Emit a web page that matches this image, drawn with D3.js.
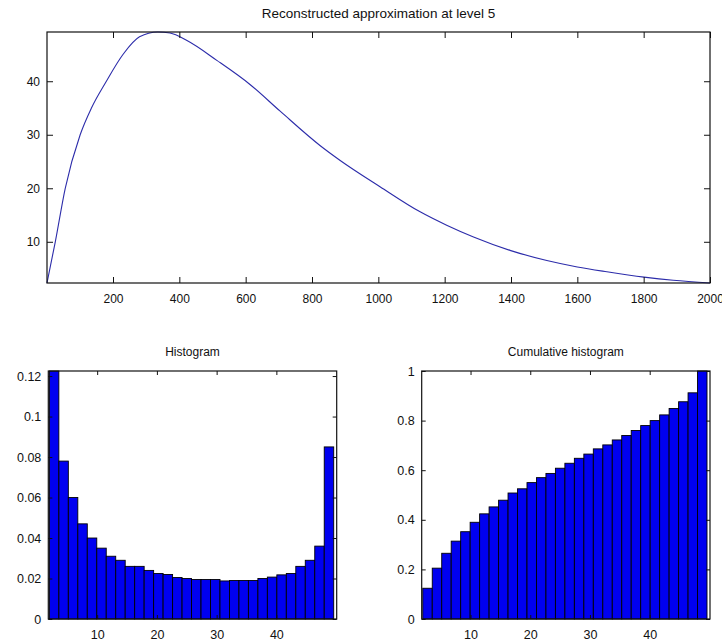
<!DOCTYPE html>
<html>
<head>
<meta charset="utf-8">
<script src="https://cdn.jsdelivr.net/npm/d3@7.9.0/dist/d3.min.js"></script>
<style>
  html, body { margin: 0; padding: 0; background: #fff; }
  svg { display: block; }
  .tick text { font-family: "Liberation Sans", Arial, sans-serif; font-size: 12px; fill: #111; }
  .small .tick text { font-size: 12.5px; }
  .title { font-family: "Liberation Sans", Arial, sans-serif; font-size: 12px; fill: #111; text-anchor: middle; }
  .big { font-size: 13.5px; }
</style>
</head>
<body>
<svg id="fig" width="722" height="643"></svg>
<script>
// top curve: reconstructed approximation (sample index vs value)
const curveX = [1, 26, 56, 101, 135, 180, 230, 280, 335, 372, 423, 513, 613,
  704, 824, 885, 1005, 1126, 1206, 1287, 1397, 1508, 1600, 1689, 1801, 1889, 2000];
const curveY = [2.3, 10.0, 20.0, 30.0, 35.0, 40.0, 45.0, 48.3, 49.2, 49.0, 47.6, 43.9, 39.4,
  34.4, 28.0, 25.2, 20.3, 15.6, 13.1, 10.9, 8.4, 6.5, 5.3, 4.4, 3.4, 2.8, 2.3];
const curveXTicks = [200, 400, 600, 800, 1000, 1200, 1400, 1600, 1800, 2000];
const curveYTicks = [10, 20, 30, 40];

// histograms: 30 bins between binLo and binHi
const binLo = 2.0, binHi = 49.6;
const histValues = [0.1225, 0.078, 0.060, 0.047, 0.040, 0.035, 0.031, 0.029, 0.026, 0.026,
  0.024, 0.0225, 0.022, 0.0205, 0.020, 0.0195, 0.0195, 0.0195, 0.0188, 0.019,
  0.019, 0.019, 0.020, 0.0207, 0.0218, 0.0225, 0.026, 0.029, 0.036, 0.085];
const cumValues = [0.124, 0.205, 0.265, 0.314, 0.352, 0.39, 0.424, 0.452, 0.479, 0.508,
  0.525, 0.55, 0.57, 0.587, 0.608, 0.628, 0.648, 0.665, 0.686, 0.702,
  0.722, 0.740, 0.760, 0.780, 0.800, 0.823, 0.849, 0.876, 0.912, 1.0];
const histXTicks = [10, 20, 30, 40];
const histYTicks = [0, 0.02, 0.04, 0.06, 0.08, 0.1, 0.12];
const cumYTicks = [0, 0.2, 0.4, 0.6, 0.8, 1];

const svg = d3.select('#fig');
const fmt = v => String(+v.toFixed(2));

// box + inward ticks on all four sides, labels only left/bottom
function frame(g, x, y, xt, yt, tick, title) {
  const [x0, x1] = x.range();
  const [y0, y1] = y.range();
  g.append('g').attr('transform', `translate(0,${y0})`)
    .call(d3.axisBottom(x).tickValues(xt).tickSizeInner(-tick).tickSizeOuter(0).tickPadding(11).tickFormat(fmt));
  g.append('g').attr('transform', `translate(0,${y1})`)
    .call(d3.axisTop(x).tickValues(xt).tickSizeInner(-tick).tickSizeOuter(0).tickFormat(''));
  g.append('g').attr('transform', `translate(${x0},0)`)
    .call(d3.axisLeft(y).tickValues(yt).tickSizeInner(-tick).tickSizeOuter(0).tickPadding(7).tickFormat(fmt));
  g.append('g').attr('transform', `translate(${x1},0)`)
    .call(d3.axisRight(y).tickValues(yt).tickSizeInner(-tick).tickSizeOuter(0).tickFormat(''));
  g.selectAll('.domain').remove();
  g.selectAll('.tick line').attr('stroke', '#111');
  g.append('rect')
    .attr('x', x0).attr('y', y1).attr('width', x1 - x0).attr('height', y0 - y1)
    .attr('fill', 'none').attr('stroke', '#111').attr('stroke-width', 1.2);
  return g.append('text').attr('class', 'title')
    .attr('x', (x0 + x1) / 2).attr('y', y1 - 15).text(title);
}

// --- top plot
const xTop = d3.scaleLinear().domain([1, 2000]).range([47, 710]);
const yTop = d3.scaleLinear().domain([2.3, 49.2]).range([283, 32]);
const gTop = svg.append('g');
const line = d3.line().x((d, i) => xTop(curveX[i])).y(d => yTop(d)).curve(d3.curveMonotoneX);
gTop.append('path').datum(curveY)
  .attr('d', line).attr('fill', 'none').attr('stroke', '#2c2caa').attr('stroke-width', 1.1);
frame(gTop, xTop, yTop, curveXTicks, curveYTicks, 6, 'Reconstructed approximation at level 5')
  .classed('big', true).attr('y', 18);

// --- bar panels
const binW = (binHi - binLo) / histValues.length;

function barPanel(vals, xr, yMax, yt, title) {
  const x = d3.scaleLinear().domain([1.82, 50.1]).range(xr);
  const y = d3.scaleLinear().domain([0, yMax]).range([619, 371]);
  const g = svg.append('g').attr('class', 'small');
  g.selectAll('rect.bar').data(vals).enter().append('rect')
    .attr('class', 'bar')
    .attr('x', (d, i) => x(binLo + i * binW))
    .attr('width', x(binLo + binW) - x(binLo))
    .attr('y', d => y(d))
    .attr('height', d => y(0) - y(d))
    .attr('fill', '#0000f0')
    .attr('stroke', '#000')
    .attr('stroke-width', 0.9);
  frame(g, x, y, histXTicks, yt, 4, title);
}

barPanel(histValues, [48.3, 336.7], 0.1225, histYTicks, 'Histogram');
barPanel(cumValues, [421.7, 710], 1, cumYTicks, 'Cumulative histogram');
</script>
</body>
</html>
